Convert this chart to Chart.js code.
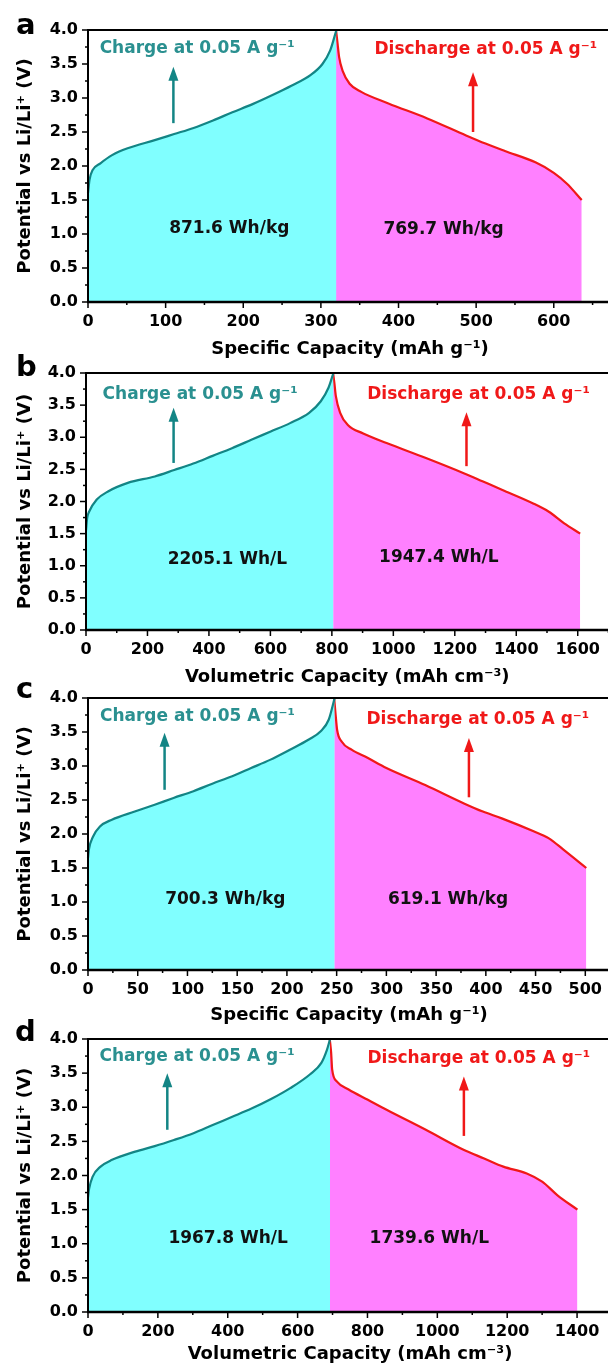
<!DOCTYPE html>
<html>
<head>
<meta charset="utf-8">
<script src="https://cdn.jsdelivr.net/npm/chart.js@4.4.1/dist/chart.umd.min.js"></script>
<style>
html, body { margin: 0; padding: 0; background: #fff; overflow: hidden; width: 608px; height: 1371px; position: relative; }
canvas { position: absolute; left: 0; }
</style>
</head>
<body>
<canvas id="cA"></canvas>
<canvas id="cB"></canvas>
<canvas id="cC"></canvas>
<canvas id="cD"></canvas>
<script>
// a: specific capacity (mAh g-1)
var chargeCapA = [0, 2, 6, 16, 31, 51, 86, 111, 136, 161, 186, 212, 237, 262, 287, 302, 312, 320];
var chargeVA = [1.60, 1.80, 1.94, 2.04, 2.16, 2.26, 2.38, 2.47, 2.56, 2.67, 2.79, 2.91, 3.04, 3.18, 3.34, 3.50, 3.70, 4.00];
var dischargeCapA = [319.5, 321.5, 323.5, 328, 337, 352, 387, 437, 487, 512, 537, 577, 600, 617, 636];
var dischargeVA = [4.00, 3.80, 3.60, 3.40, 3.21, 3.09, 2.92, 2.70, 2.45, 2.33, 2.22, 2.05, 1.90, 1.74, 1.50];

// b: volumetric capacity (mAh cm-3)
var chargeCapB = [0, 4, 10, 35, 73, 136, 224, 287, 349, 412, 475, 538, 601, 664, 726, 764, 789, 805];
var chargeVB = [1.55, 1.75, 1.84, 2.03, 2.16, 2.29, 2.39, 2.49, 2.59, 2.71, 2.83, 2.96, 3.09, 3.22, 3.38, 3.56, 3.77, 4.00];
var dischargeCapB = [804, 808, 813, 827, 852, 902, 978, 1104, 1229, 1292, 1355, 1455, 1506, 1556, 1608];
var dischargeVB = [4.00, 3.85, 3.64, 3.38, 3.19, 3.06, 2.91, 2.68, 2.44, 2.31, 2.18, 1.97, 1.84, 1.66, 1.50];

// c: specific capacity (mAh g-1)
var chargeCapC = [0, 1, 5, 12, 24, 47, 67, 86, 106, 125, 145, 164, 183, 203, 222, 234, 242, 248];
var chargeVC = [1.65, 1.78, 1.96, 2.11, 2.21, 2.33, 2.43, 2.53, 2.63, 2.74, 2.85, 2.97, 3.09, 3.24, 3.39, 3.51, 3.68, 4.00];
var dischargeCapC = [247.5, 249, 250.5, 255, 265, 281, 300, 339, 378, 397, 416, 448, 463, 478, 501];
var dischargeVC = [4.00, 3.75, 3.53, 3.36, 3.24, 3.12, 2.97, 2.72, 2.45, 2.33, 2.23, 2.04, 1.94, 1.77, 1.50];

// d: volumetric capacity (mAh cm-3)
var chargeCapD = [0, 3, 13, 36, 69, 135, 191, 246, 302, 357, 413, 468, 524, 579, 635, 668, 684, 693];
var chargeVD = [1.68, 1.80, 1.98, 2.13, 2.23, 2.35, 2.43, 2.52, 2.62, 2.74, 2.86, 2.98, 3.12, 3.28, 3.48, 3.65, 3.84, 4.00];
var dischargeCapD = [692, 696, 699, 712, 746, 801, 856, 967, 1078, 1134, 1189, 1256, 1300, 1344, 1401];
var dischargeVD = [4.00, 3.80, 3.55, 3.38, 3.26, 3.11, 2.96, 2.67, 2.37, 2.25, 2.13, 2.03, 1.91, 1.71, 1.50];

var energyLabels = [
  ['871.6 Wh/kg', '769.7 Wh/kg'],
  ['2205.1 Wh/L', '1947.4 Wh/L'],
  ['700.3 Wh/kg', '619.1 Wh/kg'],
  ['1967.8 Wh/L', '1739.6 Wh/L']
];
var xTitles = ['Specific Capacity (mAh g⁻¹)', 'Volumetric Capacity (mAh cm⁻³)',
               'Specific Capacity (mAh g⁻¹)', 'Volumetric Capacity (mAh cm⁻³)'];
var panelLetters = ['a', 'b', 'c', 'd'];

var FONT = "'DejaVu Sans', 'Liberation Sans', sans-serif";
var TEAL = '#138585';
var TEAL_TXT = '#2a9090';
var RED = '#f01818';

// layout of each panel (pixels) and where annotations sit (data units)
var panels = [
  { id: 'cA', top: 0, h: 362, w: 612, left: 88, padTop: 30, axisH: 60, titlePad: 2, xMax: 675, step: 100, minor: 50,
    letter: [16, 34], chT: [15, 3.73], diT: [369, 3.71], chA: [110, 2.63, 3.46], diA: [496, 2.50, 3.38], chE: [182, 1.08], diE: [458, 1.07],
    ch: [chargeCapA, chargeVA], di: [dischargeCapA, dischargeVA] },
  { id: 'cB', top: 340, h: 350, w: 610, left: 86, padTop: 33, axisH: 60, titlePad: 2, xMax: 1700, step: 200, minor: 100,
    letter: [16, 36], chT: [54, 3.67], diT: [915, 3.66], chA: [285, 2.60, 3.46], diA: [1238, 2.55, 3.39], chE: [460, 1.09], diE: [1148, 1.13],
    ch: [chargeCapB, chargeVB], di: [dischargeCapB, dischargeVB] },
  { id: 'cC', top: 670, h: 358, w: 612, left: 88, padTop: 28, axisH: 58, titlePad: 2, xMax: 525, step: 50, minor: 25,
    letter: [16, 28], chT: [12, 3.72], diT: [280, 3.69], chA: [77, 2.65, 3.49], diA: [383, 2.54, 3.41], chE: [138, 1.03], diE: [362, 1.03],
    ch: [chargeCapC, chargeVC], di: [dischargeCapC, dischargeVC] },
  { id: 'cD', top: 1010, h: 361, w: 612, left: 88, padTop: 29, axisH: 59, titlePad: 6, xMax: 1500, step: 200, minor: 100,
    letter: [15, 31], chT: [33, 3.74], diT: [800, 3.72], chA: [227, 2.67, 3.50], diA: [1076, 2.58, 3.45], chE: [401, 1.07], diE: [977, 1.07],
    ch: [chargeCapD, chargeVD], di: [dischargeCapD, dischargeVD] }
];

function toPoints(xs, ys) {
  return xs.map(function (x, i) { return { x: x, y: ys[i] }; });
}

function drawArrow(ctx, x, yTail, yTip, color) {
  ctx.strokeStyle = color;
  ctx.fillStyle = color;
  ctx.lineWidth = 2.5;
  ctx.beginPath();
  ctx.moveTo(x, yTail);
  ctx.lineTo(x, yTip + 10);
  ctx.stroke();
  ctx.beginPath();
  ctx.moveTo(x, yTip);
  ctx.lineTo(x - 5, yTip + 14);
  ctx.lineTo(x + 5, yTip + 14);
  ctx.closePath();
  ctx.fill();
}

var decorPlugin = {
  id: 'decor',
  afterDatasetsDraw: function (chart) {
    var p = chart.options.plugins.decor;
    var ctx = chart.ctx, a = chart.chartArea, xs = chart.scales.x, ys = chart.scales.y;
    ctx.save();
    // frame (the right side runs off the page)
    ctx.strokeStyle = '#000';
    ctx.lineWidth = 2;
    ctx.beginPath();
    ctx.moveTo(a.left, a.bottom); ctx.lineTo(a.left, a.top); ctx.lineTo(chart.width, a.top);
    ctx.stroke();
    ctx.lineWidth = 2.5;
    ctx.beginPath(); ctx.moveTo(a.left - 1, a.bottom); ctx.lineTo(chart.width, a.bottom); ctx.stroke();
    // x ticks
    ctx.lineWidth = 1.5;
    for (var v = 0; v <= xs.max + 1e-9; v += p.minor) {
      var px = xs.getPixelForValue(v);
      var major = Math.abs(v / p.step - Math.round(v / p.step)) < 1e-6;
      ctx.beginPath(); ctx.moveTo(px, a.bottom); ctx.lineTo(px, a.bottom + (major ? 6 : 3)); ctx.stroke();
    }
    // y ticks
    for (var k = 0; k <= 16; k++) {
      var py = ys.getPixelForValue(k * 0.25);
      ctx.beginPath(); ctx.moveTo(a.left, py); ctx.lineTo(a.left - (k % 2 === 0 ? 6 : 3), py); ctx.stroke();
    }
    // arrows
    drawArrow(ctx, xs.getPixelForValue(p.chA[0]), ys.getPixelForValue(p.chA[1]), ys.getPixelForValue(p.chA[2]), TEAL);
    drawArrow(ctx, xs.getPixelForValue(p.diA[0]), ys.getPixelForValue(p.diA[1]), ys.getPixelForValue(p.diA[2]), RED);
    // texts
    ctx.textBaseline = 'middle';
    ctx.font = 'bold 17px ' + FONT;
    ctx.textAlign = 'left';
    ctx.fillStyle = TEAL_TXT;
    ctx.fillText('Charge at 0.05 A g⁻¹', xs.getPixelForValue(p.chT[0]), ys.getPixelForValue(p.chT[1]));
    ctx.fillStyle = RED;
    ctx.fillText('Discharge at 0.05 A g⁻¹', xs.getPixelForValue(p.diT[0]), ys.getPixelForValue(p.diT[1]));
    ctx.textAlign = 'center';
    ctx.fillStyle = '#111';
    ctx.fillText(p.energy[0], xs.getPixelForValue(p.chE[0]), ys.getPixelForValue(p.chE[1]));
    ctx.fillText(p.energy[1], xs.getPixelForValue(p.diE[0]), ys.getPixelForValue(p.diE[1]));
    // panel letter
    ctx.textAlign = 'left';
    ctx.textBaseline = 'alphabetic';
    ctx.fillStyle = '#000';
    ctx.font = 'bold 29px ' + FONT;
    ctx.fillText(p.letterText, p.letter[0], p.letter[1]);
    ctx.restore();
  }
};

panels.forEach(function (p, i) {
  var cv = document.getElementById(p.id);
  cv.width = p.w;
  cv.height = p.h;
  cv.style.top = p.top + 'px';
  p.energy = energyLabels[i];
  p.letterText = panelLetters[i];

  new Chart(cv.getContext('2d'), {
    type: 'scatter',
    data: {
      datasets: [{
        label: 'Charge',
        data: toPoints(p.ch[0], p.ch[1]),
        showLine: true,
        borderColor: TEAL,
        backgroundColor: '#80ffff',
        borderWidth: 2.2,
        pointRadius: 0,
        fill: 'origin',
        cubicInterpolationMode: 'monotone',
        clip: 4
      }, {
        label: 'Discharge',
        data: toPoints(p.di[0], p.di[1]),
        showLine: true,
        borderColor: RED,
        backgroundColor: '#ff80ff',
        borderWidth: 2.2,
        pointRadius: 0,
        fill: 'origin',
        cubicInterpolationMode: 'monotone',
        clip: 4
      }]
    },
    options: {
      responsive: false,
      animation: false,
      events: [],
      layout: { padding: { top: p.padTop, left: 0, right: 0, bottom: 0 } },
      plugins: {
        legend: { display: false },
        tooltip: { enabled: false },
        decor: p
      },
      scales: {
        x: {
          type: 'linear',
          min: 0,
          max: p.xMax,
          afterFit: function (s) { s.height = p.axisH; },
          grid: { display: false, drawTicks: false },
          border: { display: false },
          ticks: {
            stepSize: p.step,
            includeBounds: false,
            autoSkip: false,
            maxRotation: 0,
            padding: 10,
            color: '#000',
            font: { family: FONT, size: 16, weight: 'bold' },
            callback: function (v) { return String(v); }
          },
          title: {
            display: true,
            text: xTitles[i],
            color: '#000',
            font: { family: FONT, size: 18, weight: 'bold' },
            padding: { top: 0, bottom: p.titlePad }
          }
        },
        y: {
          type: 'linear',
          min: 0,
          max: 4,
          afterFit: function (s) { s.width = p.left; },
          grid: { display: false, drawTicks: false },
          border: { display: false },
          ticks: {
            stepSize: 0.5,
            padding: 10,
            color: '#000',
            font: { family: FONT, size: 16, weight: 'bold' },
            callback: function (v) { return Number(v).toFixed(1); }
          },
          title: {
            display: true,
            text: 'Potential vs Li/Li⁺ (V)',
            color: '#000',
            font: { family: FONT, size: 18, weight: 'bold' },
            padding: { top: 15, bottom: 0 }
          }
        }
      }
    },
    plugins: [decorPlugin]
  });
});
</script>
</body>
</html>
